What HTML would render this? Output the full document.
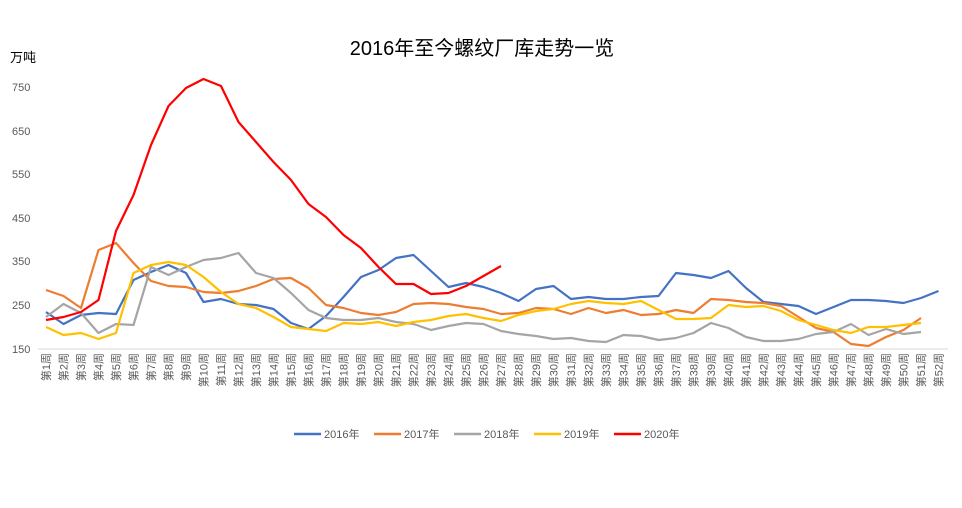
<!DOCTYPE html>
<html><head><meta charset="utf-8"><style>
body{margin:0;background:#fff}
svg text{font-family:"Liberation Sans","Noto Sans CJK SC",sans-serif}
</style></head><body>
<svg id="s" width="962" height="503" xmlns="http://www.w3.org/2000/svg">
<rect width="962" height="503" fill="#fff"/>
<text x="482" y="55" text-anchor="middle" font-size="20" fill="#000">2016年至今螺纹厂库走势一览</text>
<text x="10" y="62" font-size="13" fill="#000">万吨</text>
<g font-size="11" fill="#595959">
<text x="12" y="91">750</text><text x="12" y="135">650</text><text x="12" y="178">550</text>
<text x="12" y="222">450</text><text x="12" y="265">350</text><text x="12" y="309">250</text><text x="12" y="353">150</text>
</g>
<line x1="38" y1="349" x2="948" y2="349" stroke="#d9d9d9" stroke-width="1"/>
<g id="xl" font-size="11" fill="#595959"></g>
<g id="lines" fill="none" stroke-width="2.2" stroke-linejoin="round"></g>
<g font-size="11" fill="#595959">
<line x1="294" y1="434" x2="321" y2="434" stroke="#4472c4" stroke-width="2.5"/><text x="324" y="438">2016年</text>
<line x1="374" y1="434" x2="401" y2="434" stroke="#ed7d31" stroke-width="2.5"/><text x="404" y="438">2017年</text>
<line x1="454" y1="434" x2="481" y2="434" stroke="#a5a5a5" stroke-width="2.5"/><text x="484" y="438">2018年</text>
<line x1="534" y1="434" x2="561" y2="434" stroke="#ffc000" stroke-width="2.5"/><text x="564" y="438">2019年</text>
<line x1="614" y1="434" x2="641" y2="434" stroke="#ff0000" stroke-width="2.5"/><text x="644" y="438">2020年</text>
</g>
</svg>
<script>
var X=function(i){return 46+(i-1)*17.5;};
var d={
"#4472c4":[312,324,315,313,314,280,272,265,273,302,299,304,305,309,323,329,316,297,277,270,258,255,271,287,283,287,293,301,289,286,299,297,299,299,297,296,273,275,278,271,288,302,304,306,314,307,300,300,301,303,298,291],
"#ed7d31":[290,296,308,250,243,263,281,286,287,292,293,291,286,279,278,288,305,308,313,315,312,304,303,304,307,309,314,313,308,309,314,308,313,310,315,314,310,313,299,300,302,303,306,317,328,332,344,346,337,330,318],
"#a5a5a5":[317,304,313,333,324,325,267,275,267,260,258,253,273,278,293,310,318,320,320,318,322,324,330,326,323,324,331,334,336,339,338,341,342,335,336,340,338,333,323,328,337,341,341,339,334,332,324,335,329,334,332],
"#ffc000":[327,335,333,339,333,273,265,262,265,277,292,304,308,317,327,329,331,323,324,322,326,322,320,316,314,318,321,315,311,309,304,301,303,304,301,310,319,319,318,305,307,306,311,320,325,330,333,327,327,325,323],
"#ff0000":[320,317,312,300,231,195,145,106,88,79,86,122,142,162,180,204,217,235,248,267,284,284,294,293,286,276,266]};
var ns="http://www.w3.org/2000/svg",g=document.getElementById("lines");
for(var c in d){var p=document.createElementNS(ns,"polyline");
p.setAttribute("points",d[c].map(function(y,i){return X(i+1)+","+y;}).join(" "));
p.setAttribute("stroke",c);g.appendChild(p);}
var xl=document.getElementById("xl");
for(var i=1;i<=52;i++){var t=document.createElementNS(ns,"text");
t.setAttribute("transform","translate("+(X(i)+4)+",353) rotate(-90)");
t.setAttribute("text-anchor","end");t.textContent="第"+i+"周";xl.appendChild(t);}
</script>
</body></html>
